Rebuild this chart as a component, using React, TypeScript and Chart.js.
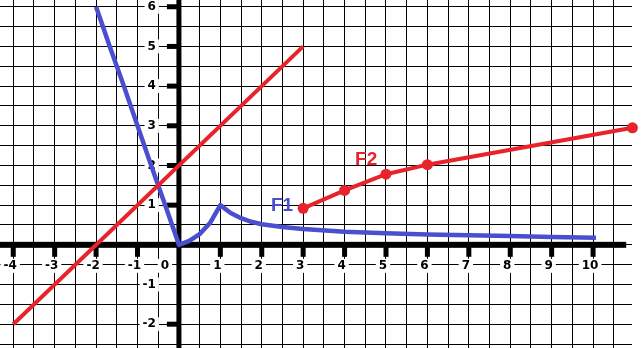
import React, { useEffect, useRef } from "react";
import { Chart, registerables } from "chart.js";

Chart.register(...registerables);

// ---- Data ----
const X_MIN = -4.32;
const X_MAX = 10.94;
const Y_MIN = -2.6;
const Y_MAX = 6.17;
const GRID_STEP = 0.5;
const X_AXIS_END = 10.8;

// straight red line
const lineX = [-4, 3];
const lineY = [-2, 5];

// blue curve (F1)
const f1X = [-2, -1.67, -1.33, -1, -0.67, -0.33, 0, 0.25, 0.5, 0.75, 1, 1.25, 1.5, 1.75, 2, 2.5, 3, 4, 5, 6, 7, 8, 9, 10.07];
const f1Y = [6, 5, 4, 3, 2, 1, 0, 0.1, 0.27, 0.55, 1, 0.8, 0.67, 0.58, 0.52, 0.45, 0.4, 0.33, 0.29, 0.26, 0.24, 0.22, 0.2, 0.18];

// red points (F2)
const f2X = [3, 4, 5, 6, 10.95];
const f2Y = [0.92, 1.37, 1.78, 2.02, 2.95];

// axis ticks / labels
const xTickValues = [-4, -3, -2, -1, 1, 2, 3, 4, 5, 6, 7, 8, 9, 10];
const xLabelValues = [-4, -3, -2, -1, 0, 1, 2, 3, 4, 5, 6, 7, 8, 9, 10];
const xLabelTexts = ["-4", "-3", "-2", "-1", "0", "1", "2", "3", "4", "5", "6", "7", "8", "9", "10"];
const yTickValues = [6, 5, 4, 3, 2, 1, -2];
const yLabelValues = [6, 5, 4, 3, 2, 1, -1, -2];
const yLabelTexts = ["6", "5", "4", "3", "2", "1", "-1", "-2"];

// series annotations
const seriesNames = ["F1", "F2"];
const seriesNameX = [2.49, 4.52];
const seriesNameY = [0.98, 2.14];

const BLUE = "#4a4fcf";
const RED = "#e8232b";
const seriesColors = [BLUE, RED];

const gridTicks = (min: number, max: number) => {
  const out: { value: number }[] = [];
  const start = Math.ceil(min / GRID_STEP);
  const end = Math.floor(max / GRID_STEP);
  for (let i = start; i <= end; i++) out.push({ value: i * GRID_STEP });
  return out;
};

const drawLabel = (ctx: any, text: string, x: number, y: number, align: "center" | "right") => {
  const w = ctx.measureText(text).width;
  const left = align === "center" ? x - w / 2 : x - w;
  ctx.fillStyle = "#fff";
  ctx.fillRect(left - 3, y - 7, w + 6, 14);
  ctx.fillStyle = "#000";
  ctx.fillText(text, x, y);
};

const axesPlugin = {
  id: "mathAxes",
  beforeDatasetsDraw(chart: any) {
    const { ctx, scales } = chart;
    const xs = scales.x;
    const ys = scales.y;
    const x0 = xs.getPixelForValue(0);
    const y0 = ys.getPixelForValue(0);
    ctx.save();
    // labels (with white backdrop)
    ctx.font = 'bold 12px "DejaVu Sans"';
    ctx.textBaseline = "middle";
    ctx.textAlign = "center";
    xLabelValues.forEach((v, i) => {
      const px = v === 0 ? x0 - 14 : xs.getPixelForValue(v) - 3;
      drawLabel(ctx, xLabelTexts[i], px, y0 + 21, "center");
    });
    ctx.textAlign = "right";
    yLabelValues.forEach((v, i) => {
      const py = ys.getPixelForValue(v);
      drawLabel(ctx, yLabelTexts[i], x0 - 23, py, "right");
    });
    ctx.fillStyle = "#000";
    // axes
    ctx.fillRect(0, y0 - 3, xs.getPixelForValue(X_AXIS_END), 6);
    ctx.fillRect(x0 - 2.5, 0, 5, chart.height);
    // tick marks
    xTickValues.forEach((v) => {
      const px = xs.getPixelForValue(v);
      ctx.fillRect(px - 2.5, y0, 5, 12);
    });
    yTickValues.forEach((v) => {
      const py = ys.getPixelForValue(v);
      ctx.fillRect(x0 - 12, py - 2.5, 12, 5);
    });
    ctx.restore();
  },
  afterDatasetsDraw(chart: any) {
    const { ctx, scales } = chart;
    ctx.save();
    ctx.font = 'bold 19px "Liberation Sans"';
    ctx.textAlign = "center";
    ctx.textBaseline = "middle";
    seriesNames.forEach((n, i) => {
      ctx.fillStyle = seriesColors[i];
      ctx.fillText(n, scales.x.getPixelForValue(seriesNameX[i]), scales.y.getPixelForValue(seriesNameY[i]));
    });
    ctx.restore();
  },
};

export default function App() {
  const ref = useRef<HTMLCanvasElement | null>(null);
  useEffect(() => {
    if (!ref.current) return;
    const chart = new Chart(ref.current, {
      type: "scatter",
      data: {
        datasets: [
          {
            data: lineX.map((x, i) => ({ x, y: lineY[i] })),
            showLine: true,
            borderColor: RED,
            borderWidth: 4,
            pointRadius: 0,
            clip: false as any,
          },
          {
            data: f1X.map((x, i) => ({ x, y: f1Y[i] })),
            showLine: true,
            borderColor: BLUE,
            borderWidth: 4.5,
            pointRadius: 0,
            borderJoinStyle: "round",
            clip: false as any,
          },
          {
            data: f2X.map((x, i) => ({ x, y: f2Y[i] })),
            showLine: true,
            borderColor: RED,
            backgroundColor: RED,
            borderWidth: 4,
            pointRadius: 5.5,
            pointBorderWidth: 0,
            pointBackgroundColor: RED,
            clip: false as any,
          },
        ],
      },
      options: {
        animation: false,
        responsive: false,
        maintainAspectRatio: false,
        layout: { autoPadding: false, padding: { left: 0, top: 0, right: 11, bottom: 0 } },
        plugins: { legend: { display: false }, tooltip: { enabled: false } },
        events: [],
        scales: {
          x: {
            type: "linear",
            min: X_MIN,
            max: X_MAX,
            afterBuildTicks: (s: any) => {
              s.ticks = gridTicks(X_MIN, X_MAX);
            },
            ticks: { display: false },
            grid: { color: "#000", lineWidth: 1, drawTicks: false },
            border: { display: false },
          },
          y: {
            type: "linear",
            min: Y_MIN,
            max: Y_MAX,
            afterBuildTicks: (s: any) => {
              s.ticks = gridTicks(Y_MIN, Y_MAX);
            },
            ticks: { display: false },
            grid: { color: "#000", lineWidth: 1, drawTicks: false },
            border: { display: false },
          },
        },
      } as any,
      plugins: [axesPlugin],
    });
    return () => chart.destroy();
  }, []);
  return (
    <div style={{ position: "absolute", left: 0, top: 0, width: 643, height: 348, background: "#fff" }}>
      <canvas ref={ref} width={643} height={348} style={{ display: "block" }} />
    </div>
  );
}
